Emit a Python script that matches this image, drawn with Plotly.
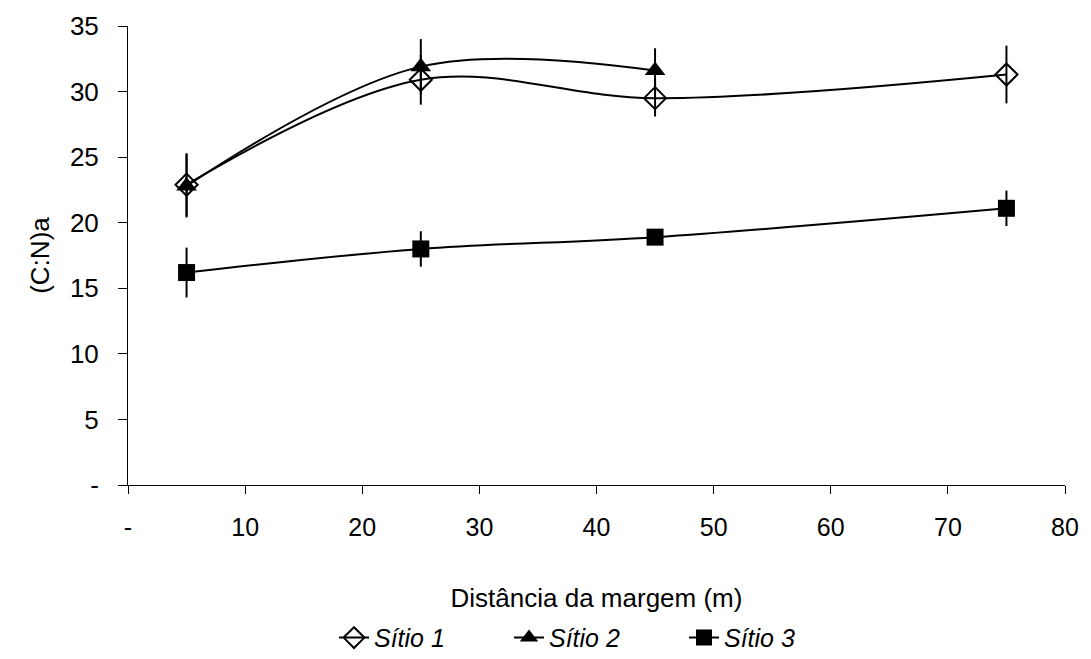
import plotly.graph_objects as go

# Distância da margem (m)
dist = [5, 25, 45, 75]
dist_s2 = [5, 25, 45]

# (C:N)a médias e erros
s1_vals = [22.9, 30.9, 29.5, 31.3]
s1_err = [2.4, 1.9, 1.4, 2.2]
s2_vals = [22.8, 31.9, 31.6]
s2_err = [2.4, 2.1, 1.7]
s3_vals = [16.2, 18.0, 18.9, 21.1]
s3_err = [1.9, 1.35, 0.6, 1.35]

y_ticks = [0, 5, 10, 15, 20, 25, 30, 35]
y_ticktext = ["-", "5", "10", "15", "20", "25", "30", "35"]
x_ticks = [0, 10, 20, 30, 40, 50, 60, 70, 80]
x_ticktext = ["-", "10", "20", "30", "40", "50", "60", "70", "80"]

FONT = "Liberation Sans, Arial, sans-serif"

def err(vals):
    return dict(type="data", array=vals, visible=True, color="black",
                thickness=2, width=0)

fig = go.Figure()
fig.add_trace(go.Scatter(
    x=dist, y=s1_vals, name="<i>Sítio 1</i>", mode="lines+markers",
    line=dict(color="black", width=2, shape="spline", smoothing=1),
    marker=dict(symbol="diamond-open", size=17, color="black",
                line=dict(color="black", width=2)),
    error_y=err(s1_err),
))
fig.add_trace(go.Scatter(
    x=dist_s2, y=s2_vals, name="<i>Sítio 2</i>", mode="lines+markers",
    line=dict(color="black", width=2, shape="spline", smoothing=1),
    marker=dict(symbol="triangle-up", size=18, color="black"),
    error_y=err(s2_err),
))
fig.add_trace(go.Scatter(
    x=dist, y=s3_vals, name="<i>Sítio 3</i>", mode="lines+markers",
    line=dict(color="black", width=2, shape="spline", smoothing=1),
    marker=dict(symbol="square", size=17, color="black"),
    error_y=err(s3_err),
))

fig.update_layout(
    width=1091, height=659,
    margin=dict(l=128, r=26, t=26, b=174, autoexpand=False),
    paper_bgcolor="white", plot_bgcolor="white",
    font=dict(family=FONT, size=26, color="black"),
    showlegend=True,
    legend=dict(orientation="h", x=0.5, xanchor="center", y=-0.333,
                yanchor="middle", font=dict(size=25, family=FONT),
                entrywidth=130, entrywidthmode="pixels", tracegroupgap=0),
)
fig.update_xaxes(
    range=[0, 80], tickvals=x_ticks, ticktext=x_ticktext,
    showgrid=False, zeroline=False, showline=True, linecolor="black",
    linewidth=1, ticks="outside", ticklen=8, tickcolor="black",
    tickfont=dict(size=25), ticklabelstandoff=12,
    title=dict(text="Distância da margem (m)", font=dict(size=26), standoff=48),
)
fig.update_yaxes(
    range=[0, 35], tickvals=y_ticks, ticktext=y_ticktext,
    showgrid=False, zeroline=False, showline=True, linecolor="black",
    linewidth=1, ticks="outside", ticklen=9, tickcolor="black",
    tickfont=dict(size=26), ticklabelstandoff=14,
    title=dict(text="(C:N)a", font=dict(size=26), standoff=12),
)

fig.write_html("out.html")
